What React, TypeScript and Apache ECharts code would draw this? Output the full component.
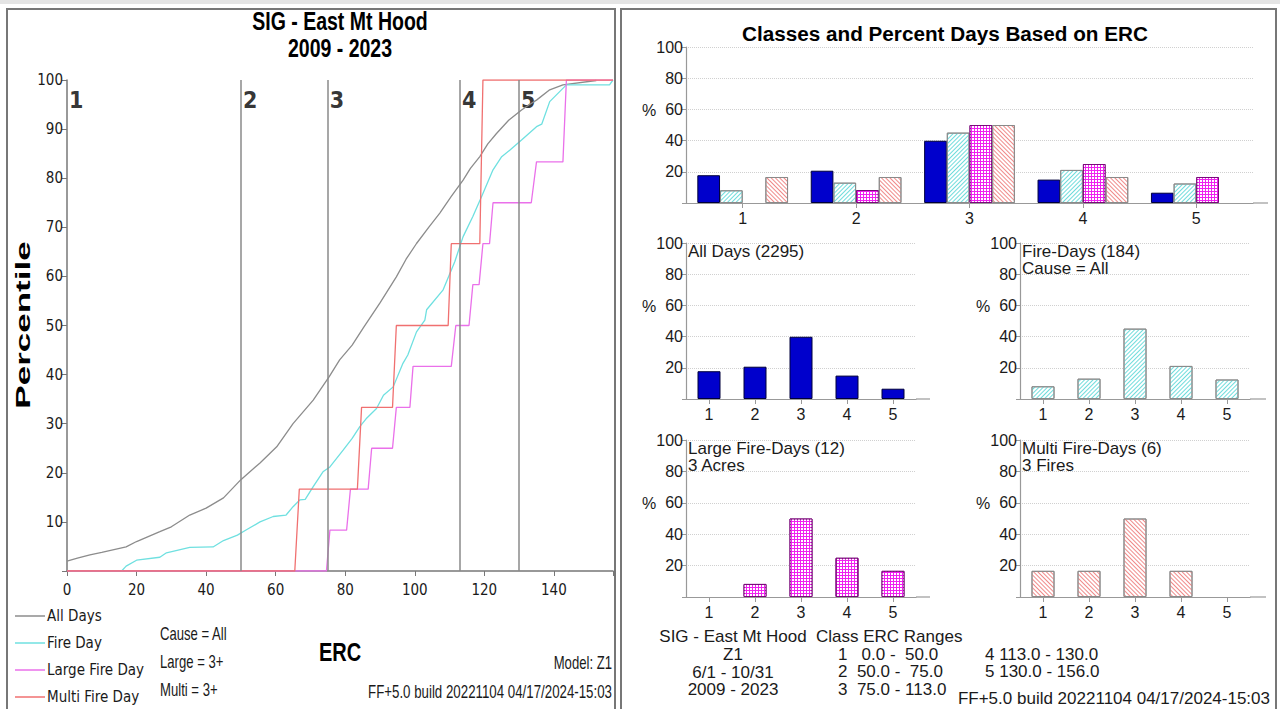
import React, { useEffect, useRef } from 'react';
import * as echarts from 'echarts';

// ---------- DATA ----------
const classBounds = [0, 50, 75, 113, 130];
const classNames = ['1', '2', '3', '4', '5'];

// Cumulative percentile curves: [ERC, percentile]
const allDaysCurve = [
  [0, 2.0], [3, 2.6], [6.6, 3.3], [10, 3.8], [17, 4.9], [20, 6.0], [26.7, 8.0], [30, 9.0],
  [35.3, 11.4], [40, 12.8], [45, 14.9], [50, 18.6], [55.5, 22], [60.3, 25.3], [65, 30],
  [70.8, 34.8], [75.4, 39.6], [78.4, 43], [82, 46], [85.2, 49.5], [90, 54.6], [94.7, 59.9],
  [97.5, 63.5], [100.5, 66.7], [104, 70], [107.2, 72.9], [110.5, 76.3], [113.9, 79.6],
  [116, 82], [118.7, 84.4], [121, 87], [123.5, 89.1], [127, 91.8], [130.7, 93.9],
  [133, 95], [135, 95.9], [138.8, 98], [142.6, 99], [152.2, 99.9]
];
const fireDayCurve = [
  [15.7, 0], [17, 1], [20, 2.2], [26.7, 2.8], [28.6, 3.7], [35.3, 4.8], [42, 4.9], [45, 6.2],
  [49, 7.3], [51.6, 8.4], [55.5, 10], [59.3, 11.1], [63, 11.4], [65, 13.1], [67, 14.5],
  [68.5, 14.6], [70.8, 17.2], [73.6, 20.2], [75.6, 21.2], [79.4, 24.6], [82, 27], [84.2, 29.4],
  [86, 31], [89, 33.1], [91, 35.8], [93.8, 37.5], [96.6, 42.3], [98, 44], [100.5, 48.7],
  [102.9, 51.1], [103.4, 53.2], [108.1, 57.2], [111.5, 63], [113.9, 68.1], [116.7, 72.2],
  [119.6, 76.9], [122.5, 81.7], [124.9, 84.3], [127.3, 85.7], [130.7, 87.8], [135, 90.5],
  [136.5, 91], [138.8, 95.6], [143.6, 99], [156, 99], [157, 100]
];
const largeFireCurve = [
  [0, 0], [74.6, 0], [75.6, 8.33], [80.4, 8.33], [81.5, 16.67], [86.6, 16.67], [87.6, 25],
  [93.6, 25], [94.7, 33.33], [98.6, 33.33], [99.5, 41.67], [110.5, 41.67], [111.8, 50],
  [115.6, 50], [116.7, 58.33], [118.5, 58.33], [119.6, 66.67], [121.5, 66.67], [122.5, 75],
  [133.5, 75], [135, 83.33], [142.6, 83.33], [143.6, 100], [157, 100]
];
const multiFireCurve = [
  [0, 0], [65.5, 0], [66.8, 16.67], [83.5, 16.67], [84.7, 33.33], [93.6, 33.33], [94.7, 50],
  [109.6, 50], [110.5, 66.67], [118.7, 66.67], [119.6, 100], [157, 100]
];

const barCats = ['1', '2', '3', '4', '5'];
const pctAllDays = [17.8, 20.7, 39.9, 15.0, 6.6];
const pctFireDays = [8.15, 13.04, 45.11, 21.2, 12.5];
const pctLargeFireDays = [null, 8.33, 50, 25, 16.67];
const pctMultiFireDays = [16.67, 16.67, 50, 16.67, null];

const yTicksLeft = [10, 20, 30, 40, 50, 60, 70, 80, 90, 100];

// ---------- STYLES ----------
const NARROW = '"Liberation Sans Narrow", "Arial Narrow", "DejaVu Sans Condensed", sans-serif';
const ARIAL = '"Liberation Sans", Arial, sans-serif';
const TXT = '#1a1a1a';

const blueStyle = { color: '#0000cc', borderColor: '#00003a', borderWidth: 1 };
const cyanStyle = {
  color: '#ffffff', borderColor: '#8a8a8a', borderWidth: 1,
  decal: { symbol: 'rect', symbolSize: 1, color: '#6fdcdc', dashArrayX: [1, 0], dashArrayY: [1, 2], rotation: -Math.PI / 4 }
};
const magentaStyle = {
  color: '#f020f0', borderColor: '#7a0a7a', borderWidth: 1,
  decal: { symbol: 'rect', symbolSize: 1, color: '#ffffff', dashArrayX: [2, 1], dashArrayY: [2, 1], rotation: 0 }
};
const salmonStyle = {
  color: '#ffffff', borderColor: '#8a8a8a', borderWidth: 1,
  decal: { symbol: 'rect', symbolSize: 1, color: '#f08a8a', dashArrayX: [1, 0], dashArrayY: [1, 2], rotation: Math.PI / 4 }
};

const lineColors = {
  all: '#8c8c8c', fire: '#6fe0e0', large: '#ea70ea', multi: '#f07070'
};

function catX(gridIndex: number) {
  return {
    type: 'category', gridIndex, data: barCats,
    axisLine: { show: true, lineStyle: { color: '#999', width: 1.2 } },
    axisTick: { show: true, alignWithLabel: true, length: 5, lineStyle: { color: '#999' } },
    axisLabel: { fontFamily: ARIAL, fontSize: 16, color: TXT, margin: 7 },
    splitLine: { show: false }
  };
}
function pctY(gridIndex: number) {
  return {
    type: 'value', gridIndex, min: 0, max: 100, interval: 20,
    axisLine: { show: true, lineStyle: { color: '#999', width: 1.2 } },
    axisTick: { show: true, length: 4, lineStyle: { color: '#999' } },
    axisLabel: { fontFamily: ARIAL, fontSize: 16, color: TXT, margin: 3, formatter: (v: number) => (v === 0 ? '' : String(v)) },
    splitLine: { show: true, lineStyle: { type: 'dotted', color: '#d0d0d0' } }
  };
}

function txt(x: number, y: number, text: string, o: any = {}) {
  return {
    type: 'text', x, y, silent: true,
    style: {
      text, fill: o.fill || TXT, font: `${o.bold ? 'bold ' : ''}${o.size || 17}px ${o.family || ARIAL}`,
      textAlign: o.align || 'left', textVerticalAlign: 'middle'
    },
    rotation: o.rotation || 0, scaleX: o.scaleX || 1, scaleY: o.scaleY || 1
  };
}
// condensed text for the left panel (scaled Liberation Sans)
function ntxt(x: number, y: number, text: string, o: any = {}) {
  return txt(x, y, text, { scaleX: 0.8, ...o });
}
function hline(x1: number, x2: number, y: number, color = '#999', w = 1.2) {
  return { type: 'line', silent: true, shape: { x1, y1: y, x2, y2: y }, style: { stroke: color, lineWidth: w } };
}

export default function App() {
  const ref = useRef<HTMLDivElement>(null);
  useEffect(() => {
    if (!ref.current) return;
    const chart = echarts.init(ref.current, null, { renderer: 'svg' });
    const lineSeries = (name: string, data: number[][], color: string) => ({
      name, type: 'line', xAxisIndex: 0, yAxisIndex: 0, data, showSymbol: false, symbol: 'none',
      color, itemStyle: { color }, lineStyle: { color, width: 1.3 }, z: 3, silent: true
    });
    const option: any = {
      animation: false,
      backgroundColor: '#ffffff',
      grid: [
        { left: 67, top: 80, width: 546, height: 491 },
        { left: 686, top: 47, width: 567, height: 156 },
        { left: 686, top: 243, width: 230, height: 156 },
        { left: 1020, top: 243, width: 230, height: 156 },
        { left: 686, top: 440, width: 230, height: 157 },
        { left: 1020, top: 440, width: 230, height: 157 }
      ],
      xAxis: [
        {
          type: 'value', gridIndex: 0, min: 0, max: 157, interval: 20,
          axisLine: { show: true, lineStyle: { color: '#777', width: 1.5 } },
          axisTick: { show: true, length: 5, lineStyle: { color: '#777' } },
          axisLabel: { fontFamily: NARROW, fontSize: 15, color: TXT, margin: 11, formatter: (v: number) => (v % 20 === 0 ? String(v) : '') },
          splitLine: { show: false }
        },
        catX(1), catX(2), catX(3), catX(4), catX(5)
      ],
      yAxis: [
        {
          type: 'value', gridIndex: 0, min: 0, max: 100, interval: 10,
          axisLine: { show: true, lineStyle: { color: '#777', width: 1.5 } },
          axisTick: { show: true, length: 5, lineStyle: { color: '#777' } },
          axisLabel: { fontFamily: NARROW, fontSize: 15, color: TXT, margin: 4, formatter: (v: number) => (yTicksLeft.includes(v) ? String(v) : '') },
          splitLine: { show: false }
        },
        pctY(1), pctY(2), pctY(3), pctY(4), pctY(5)
      ],
      legend: {
        data: ['All Days', 'Fire Day', 'Large Fire Day', 'Multi Fire Day'],
        orient: 'vertical', left: 15, top: 607, itemWidth: 30, itemHeight: 1.5, itemGap: 9,
        icon: 'rect', padding: 0, selectedMode: false,
        textStyle: { fontFamily: NARROW, fontSize: 15, color: TXT, lineHeight: 18, padding: [0, 0, 0, -3] }
      },
      series: [
        {
          type: 'scatter', xAxisIndex: 0, yAxisIndex: 0, silent: true, z: 1,
          data: classBounds.map((b) => [b, 96]), symbolSize: 0,
          label: {
            show: true, position: 'right', distance: 2,
            formatter: (p: any) => classNames[p.dataIndex],
            fontFamily: NARROW, fontWeight: 'bold', fontSize: 23, color: '#000'
          },
          markLine: {
            silent: true, symbol: ['none', 'none'], label: { show: false },
            lineStyle: { color: '#8a8a8a', width: 1.5, type: 'solid' },
            data: classBounds.slice(1).map((b) => ({ xAxis: b }))
          }
        },
        lineSeries('All Days', allDaysCurve, lineColors.all),
        lineSeries('Fire Day', fireDayCurve, lineColors.fire),
        lineSeries('Large Fire Day', largeFireCurve, lineColors.large),
        lineSeries('Multi Fire Day', multiFireCurve, lineColors.multi),
        // top grouped chart
        { type: 'bar', xAxisIndex: 1, yAxisIndex: 1, data: pctAllDays, itemStyle: blueStyle, barGap: '0%', barCategoryGap: '20%', silent: true },
        { type: 'bar', xAxisIndex: 1, yAxisIndex: 1, data: pctFireDays, itemStyle: cyanStyle, barGap: '0%', barCategoryGap: '20%', silent: true },
        { type: 'bar', xAxisIndex: 1, yAxisIndex: 1, data: pctLargeFireDays, itemStyle: magentaStyle, barGap: '0%', barCategoryGap: '20%', silent: true },
        { type: 'bar', xAxisIndex: 1, yAxisIndex: 1, data: pctMultiFireDays, itemStyle: salmonStyle, barGap: '0%', barCategoryGap: '20%', silent: true },
        // small charts
        { type: 'bar', xAxisIndex: 2, yAxisIndex: 2, data: pctAllDays, itemStyle: blueStyle, barCategoryGap: '50%', silent: true },
        { type: 'bar', xAxisIndex: 3, yAxisIndex: 3, data: pctFireDays, itemStyle: cyanStyle, barCategoryGap: '50%', silent: true },
        { type: 'bar', xAxisIndex: 4, yAxisIndex: 4, data: pctLargeFireDays, itemStyle: magentaStyle, barCategoryGap: '50%', silent: true },
        { type: 'bar', xAxisIndex: 5, yAxisIndex: 5, data: pctMultiFireDays, itemStyle: salmonStyle, barCategoryGap: '50%', silent: true }
      ],
      graphic: [
        { type: 'rect', silent: true, shape: { x: 0, y: 0, width: 1280, height: 4 }, style: { fill: '#e4e4e4' } },
        { type: 'rect', silent: true, shape: { x: 7, y: 9, width: 608, height: 710 }, style: { fill: 'none', stroke: '#777', lineWidth: 2 } },
        { type: 'rect', silent: true, shape: { x: 621, y: 9, width: 655, height: 710 }, style: { fill: 'none', stroke: '#777', lineWidth: 2 } },
        // left chart texts
        ntxt(340, 22, 'SIG - East Mt Hood', { bold: true, size: 25, align: 'center', fill: '#000', scaleX: 0.78 }),
        ntxt(340, 49, '2009 - 2023', { bold: true, size: 25, align: 'center', fill: '#000', scaleX: 0.78 }),
        txt(23, 325, 'Percentile', { bold: true, size: 20, align: 'center', fill: '#000', rotation: Math.PI / 2, scaleX: 1.75 }),
        ntxt(340, 653, 'ERC', { bold: true, size: 25, align: 'center', fill: '#000' }),
        ntxt(160, 634, 'Cause = All', { size: 17.5, scaleX: 0.75 }),
        ntxt(160, 662, 'Large = 3+', { size: 17.5, scaleX: 0.75 }),
        ntxt(160, 690, 'Multi = 3+', { size: 17.5, scaleX: 0.75 }),
        ntxt(612, 663, 'Model: Z1', { size: 17.5, align: 'right', scaleX: 0.75 }),
        ntxt(612, 692, 'FF+5.0 build 20221104 04/17/2024-15:03', { size: 17.5, align: 'right', scaleX: 0.76 }),
        // right panel texts
        txt(945, 33, 'Classes and Percent Days Based on ERC', { bold: true, size: 20.7, align: 'center', fill: '#000' }),
        txt(642, 110, '%', { size: 16 }),
        txt(642, 306, '%', { size: 16 }),
        txt(976, 306, '%', { size: 16 }),
        txt(642, 503, '%', { size: 16 }),
        txt(976, 503, '%', { size: 16 }),
        txt(688, 251, 'All Days (2295)'),
        txt(1022, 251, 'Fire-Days (184)'),
        txt(1022, 268, 'Cause = All'),
        txt(688, 448, 'Large Fire-Days (12)'),
        txt(688, 465, '3 Acres'),
        txt(1022, 448, 'Multi Fire-Days (6)'),
        txt(1022, 465, '3 Fires'),
        txt(733, 636, 'SIG - East Mt Hood', { align: 'center' }),
        txt(733, 654, 'Z1', { align: 'center' }),
        txt(733, 672, '6/1 - 10/31', { align: 'center' }),
        txt(733, 689, '2009 - 2023', { align: 'center' }),
        txt(816, 636, 'Class ERC Ranges'),
        txt(838, 654, '1   0.0 -  50.0'),
        txt(838, 671, '2  50.0 -  75.0'),
        txt(838, 689, '3  75.0 - 113.0'),
        txt(985, 654, '4 113.0 - 130.0'),
        txt(985, 671, '5 130.0 - 156.0'),
        txt(1270, 698, 'FF+5.0 build 20221104 04/17/2024-15:03', { align: 'right' }),
        // axis line extensions
        hline(1253, 1268, 203),
        hline(916, 930, 399),
        hline(1250, 1266, 399),
        hline(916, 930, 597),
        hline(1250, 1266, 597)
      ]
    };
    chart.setOption(option);
    return () => chart.dispose();
  }, []);
  return <div ref={ref} style={{ position: 'absolute', left: 0, top: 0, width: 1280, height: 709, background: '#fff' }} />;
}
